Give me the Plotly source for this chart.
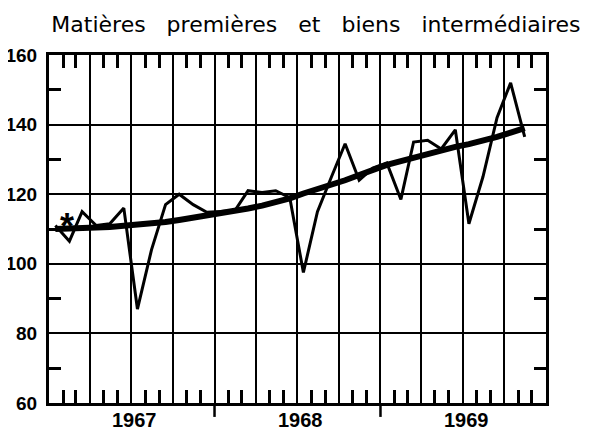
import pandas as pd
import plotly.graph_objects as go

# Monthly index values, Jan 1967 - Nov 1969
months = pd.date_range("1967-01-01", periods=35, freq="MS") + pd.Timedelta(days=14)
index_values = [
    111, 106.5, 115, 111, 111.5, 116, 87, 104, 117, 120, 117, 114.8,      # 1967
    115, 115.3, 121, 120.5, 121, 119, 97.5, 115, 125, 134.5, 124, 127.5,  # 1968
    129, 118.5, 135, 135.5, 133, 138.5, 111.5, 125, 142, 152, 136.5,      # 1969
]
trend_values = [
    110, 110, 110.2, 110.4, 110.6, 110.9, 111.2, 111.6, 112, 112.6, 113.2, 113.8,
    114.6, 115.2, 115.9, 116.7, 117.7, 118.8, 120.2, 121.4, 122.8, 124, 125.5, 127,
    128.4, 129.5, 130.5, 131.5, 132.7, 133.6, 134.4, 135.3, 136.5, 137.7, 139,
]
year_labels = ["1967", "1968", "1969"]
year_centers = ["1967-07-02", "1968-07-02", "1969-07-02"]
year_bounds = ["1968-01-01", "1969-01-01"]
gap = "\u00a0" * 3
title_text = gap.join(["Matières", "premières", "et", "biens", "intermédiaires"])

fig = go.Figure()
fig.add_trace(go.Scatter(x=months, y=trend_values, mode="lines",
                         line=dict(color="black", width=6), hoverinfo="skip"))
fig.add_trace(go.Scatter(x=months, y=index_values, mode="lines",
                         line=dict(color="black", width=3)))

num_font = dict(family="Liberation Sans", size=19, color="black", weight="bold")

fig.update_xaxes(
    type="date",
    range=["1967-01-01", "1970-01-01"],
    dtick="M3", tick0="1967-01-01",
    showgrid=True, gridcolor="black", gridwidth=2,
    showticklabels=False, ticks="",
    showline=True, linecolor="black", linewidth=3, mirror="allticks",
    minor=dict(dtick="M1", tick0="1967-01-01", ticks="inside", ticklen=13,
               tickwidth=2.5, tickcolor="black", showgrid=False),
    zeroline=False, automargin=False,
)
fig.update_yaxes(
    range=[60, 160], dtick=20, tick0=60,
    showgrid=True, gridcolor="black", gridwidth=2,
    ticks="", tickfont=num_font, ticklabelstandoff=5,
    showline=True, linecolor="black", linewidth=3, mirror="allticks",
    minor=dict(dtick=10, tick0=60, ticks="inside", ticklen=12,
               tickwidth=2.5, tickcolor="black", showgrid=False),
    zeroline=False, automargin=False,
)

for xb in year_bounds:
    fig.add_shape(type="line", xref="x", yref="paper", x0=xb, x1=xb, y0=0, y1=-0.04,
                  line=dict(color="black", width=2.5))

for lbl, xc in zip(year_labels, year_centers):
    fig.add_annotation(x=xc, y=0, xref="x", yref="paper", text=lbl, showarrow=False,
                       yanchor="top", yshift=-4, xshift=3,
                       font=dict(family="Liberation Sans", size=20, color="black", weight="bold"))

fig.add_annotation(x="1967-02-10", y=112.4, xref="x", yref="y", text="*", showarrow=False,
                   yshift=-6, font=dict(family="Liberation Sans", size=36, color="black", weight="bold"))

# the page has an 8px body margin, so the figure is sized to fill the 589x427 window from there
fig.update_layout(
    width=581, height=419,
    margin=dict(l=41, r=43, t=47, b=24, autoexpand=False),
    paper_bgcolor="white", plot_bgcolor="white",
    showlegend=False,
    title=dict(text=title_text, x=0.530, xanchor="center", y=0.961, yanchor="middle",
               xref="container", yref="container", automargin=False,
               font=dict(family="DejaVu Sans", size=22, color="black")),
)

fig.write_html("out.html")
